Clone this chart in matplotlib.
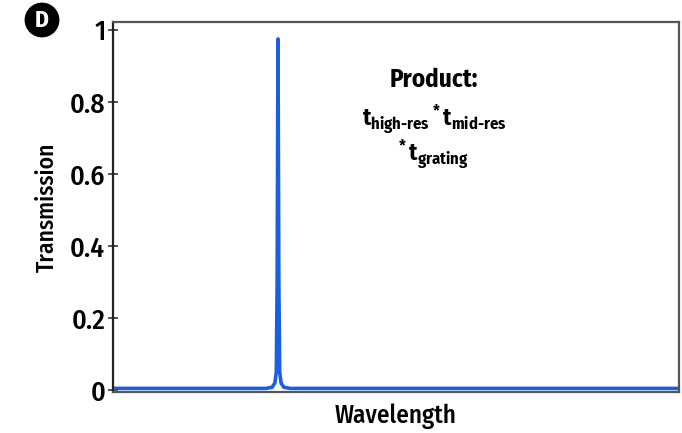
import matplotlib
matplotlib.use("Agg")
import matplotlib.pyplot as plt
from matplotlib import font_manager

names = {f.name for f in font_manager.fontManager.ttflist}
fam = "Fira Sans Condensed"
for cand in ["Fira Sans Condensed", "PT Sans Narrow", "Roboto Condensed", "DejaVu Sans"]:
    if cand in names:
        fam = cand
        break
plt.rcParams['font.family'] = [fam, 'DejaVu Sans']
plt.rcParams['mathtext.fontset'] = 'custom'
plt.rcParams['mathtext.rm'] = fam + ':bold'
plt.rcParams['mathtext.bf'] = fam + ':bold'
plt.rcParams['mathtext.it'] = fam + ':bold'

# data (wavelength in normalized units)
wavelength = [0.0, 0.27, 0.281, 0.286, 0.2885, 0.2900, 0.2915, 0.2930, 0.2945, 0.297, 0.302, 0.313, 1.0]
transmission = [0.005, 0.005, 0.008, 0.02, 0.05, 0.3, 0.975, 0.3, 0.05, 0.02, 0.008, 0.005, 0.005]
yticks = [0, 0.2, 0.4, 0.6, 0.8, 1]
yticklabels = ['0', '0.2', '0.4', '0.6', '0.8', '1']

fig = plt.figure(figsize=(6.82, 4.33), dpi=100)
ax = fig.add_axes([113/682, 1-392/433, (679-113)/682, (392-22)/433])
ax.plot(wavelength, transmission, color='#1a5fe0', lw=2.6, solid_joinstyle='round')
ax.set_xlim(0, 1)
ax.set_ylim(-0.005, 1.022)
ax.set_xticks([])
ax.set_yticks(yticks)
ax.set_yticklabels(yticklabels, fontsize=20, fontweight=500)
ax.tick_params(axis='y', direction='inout', length=7, width=1.2, color='#333333', pad=2)
for s in ax.spines.values():
    s.set_color('#555555')
    s.set_linewidth(1.6)
ax.spines['left'].set_color('#222222')
ax.set_xlabel('Wavelength', fontsize=18, fontweight=500, labelpad=8)
ax.set_ylabel('Transmission', fontsize=17, fontweight=500, labelpad=8)

ax.text(0.567, 0.843, 'Product:', transform=ax.transAxes, fontsize=18, fontweight='bold', ha='center', va='center')
ax.text(0.567, 0.735, r'$\mathbf{t_{high\text{-}res}\,{}^{*}\,t_{mid\text{-}res}}$', transform=ax.transAxes,
        fontsize=17, ha='center', va='center')
ax.text(0.567, 0.64, r'$\mathbf{{}^{*}\,t_{grating}}$', transform=ax.transAxes,
        fontsize=17, ha='center', va='center')

fig.text(42/682, 1-20/433, 'D', fontsize=17, fontweight='bold', color='white', ha='center', va='center',
         bbox=dict(boxstyle='circle,pad=0.22', fc='black', ec='black'))

fig.savefig('out.png', dpi=100)
